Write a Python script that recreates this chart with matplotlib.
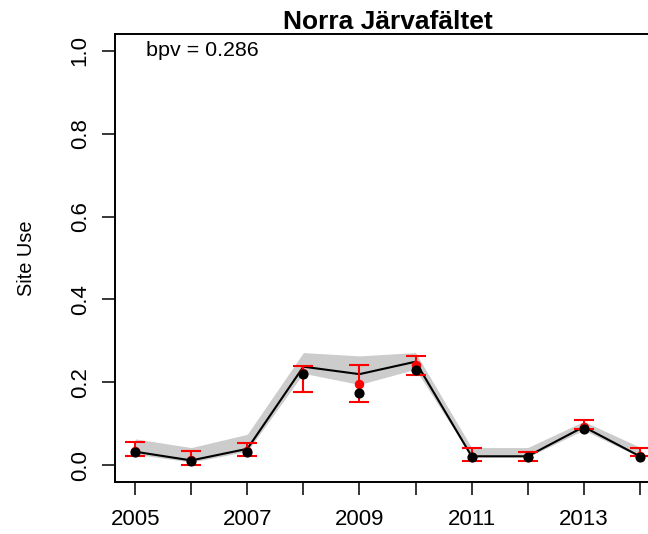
import matplotlib
matplotlib.use("Agg")
import matplotlib.pyplot as plt

plt.rcParams['font.family'] = ['Liberation Sans', 'DejaVu Sans']

years = [2005, 2006, 2007, 2008, 2009, 2010, 2011, 2012, 2013, 2014]

# model fit (line) and its credible band (grey)
fit = [0.033, 0.012, 0.040, 0.238, 0.220, 0.250, 0.022, 0.022, 0.093, 0.022]
fit_lo = [0.027, 0.008, 0.034, 0.222, 0.195, 0.232, 0.020, 0.020, 0.085, 0.020]
fit_hi = [0.064, 0.043, 0.075, 0.272, 0.264, 0.272, 0.043, 0.043, 0.106, 0.044]

# observed site use (black dots)
obs = [0.033, 0.010, 0.032, 0.220, 0.175, 0.231, 0.021, 0.021, 0.087, 0.021]

# predicted site use with interval (red)
pred = [0.035, 0.012, 0.035, 0.222, 0.197, 0.243, 0.021, 0.021, 0.093, 0.023]
pred_lo = [0.022, 0.000, 0.022, 0.176, 0.154, 0.219, 0.010, 0.010, 0.088, 0.022]
pred_hi = [0.056, 0.034, 0.055, 0.240, 0.241, 0.263, 0.043, 0.032, 0.109, 0.042]

title = "Norra Järvafältet"
bpv_label = "bpv = 0.286"

fig = plt.figure(figsize=(6.48, 5.34), dpi=100)
# right edge of the box sits just outside the picture, like the original
ax = fig.add_axes([115 / 648, 52 / 534, 545 / 648, 448 / 534])

ax.fill_between(years, fit_lo, fit_hi, color='#CCCCCC', linewidth=0, zorder=1)
ax.plot(years, fit, color='black', linewidth=1.5, zorder=2)

yerr = [[p - lo for p, lo in zip(pred, pred_lo)], [hi - p for p, hi in zip(pred, pred_hi)]]
ax.errorbar(years, pred, yerr=yerr, fmt='o', color='red', markersize=5.8,
            elinewidth=1.5, capsize=7.2, capthick=1.5, zorder=3)
ax.plot(years, obs, 'o', color='black', markersize=6.3, zorder=4)

ax.set_xlim(2005 - 0.36, 2014 + 0.36)
ax.set_ylim(-0.04, 1.04)

ax.set_xticks(years)
ax.set_xticklabels([str(y) if y % 2 == 1 else '' for y in years])
ax.set_yticks([0.0, 0.2, 0.4, 0.6, 0.8, 1.0])
ax.set_yticklabels(['0.0', '0.2', '0.4', '0.6', '0.8', '1.0'], rotation=90, va='center')

ax.tick_params(axis='both', direction='out', length=9.5, width=1.1, labelsize=16)
ax.tick_params(axis='x', pad=10)
ax.tick_params(axis='y', pad=8)

for side in ['left', 'top', 'bottom', 'right']:
    ax.spines[side].set_linewidth(1.4)

ax.set_title(title, fontsize=19, fontweight='bold', pad=3)
ax.text(2006.2, 1.0, bpv_label, ha='center', va='center', fontsize=15.4)

fig.text(27 / 648, 1 - 258 / 534, "Site Use", rotation=90, ha='center', va='center', fontsize=14.4)

fig.savefig('out.png', dpi=100)
